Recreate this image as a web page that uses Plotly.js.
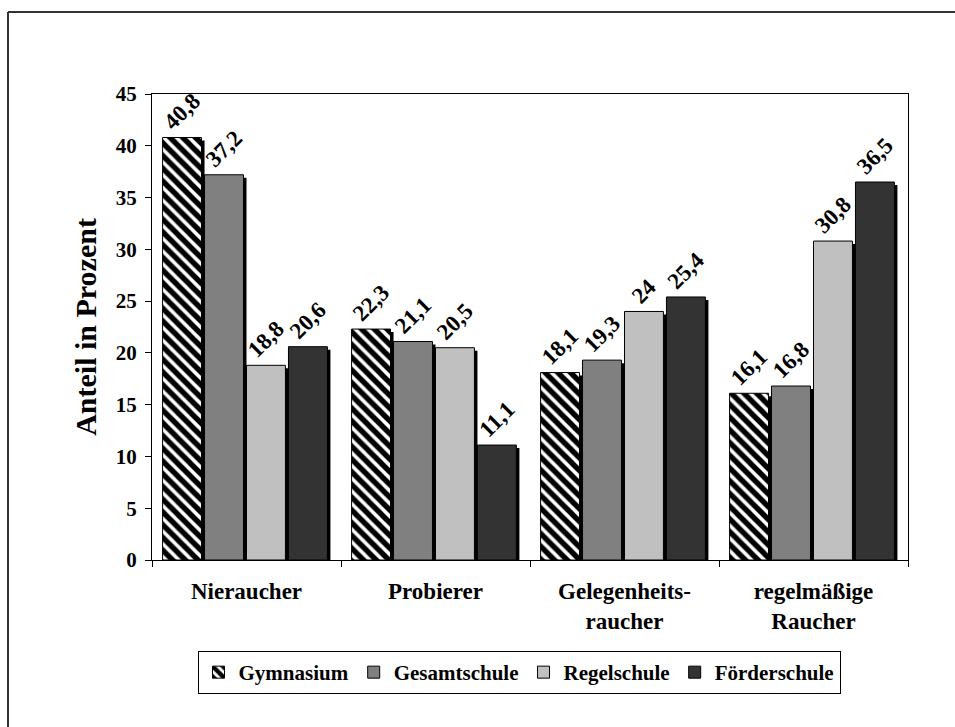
<!DOCTYPE html>
<html>
<head>
<meta charset="utf-8">
<script src="https://cdn.plot.ly/plotly-3.0.1.min.js"></script>
<style>
html,body{margin:0;padding:0;background:#fff;}
#chart{width:955px;height:727px;}
</style>
</head>
<body>
<div id="chart"></div>
<script>
const categories = ["Nieraucher", "Probierer", "Gelegenheits-<br>raucher", "regelmäßige<br>Raucher"];
const seriesNames = ["Gymnasium", "Gesamtschule", "Regelschule", "Förderschule"];
const gymnasium = [40.8, 22.3, 18.1, 16.1];
const gesamtschule = [37.2, 21.1, 19.3, 16.8];
const regelschule = [18.8, 20.5, 24.0, 30.8];
const foerderschule = [20.6, 11.1, 25.4, 36.5];
const labels = [
  ["40,8", "22,3", "18,1", "16,1"],
  ["37,2", "21,1", "19,3", "16,8"],
  ["18,8", "20,5", "24", "30,8"],
  ["20,6", "11,1", "25,4", "36,5"]
];
const yTicks = [0, 5, 10, 15, 20, 25, 30, 35, 40, 45];

const series = [gymnasium, gesamtschule, regelschule, foerderschule];
const colors = ["#ffffff", "#808080", "#c0c0c0", "#333333"];
const offsets = [-0.444, -0.222, 0.0, 0.222];
const barW = 0.206;
const shadowDx = 0.016;
const shadowDy = 0.29;
const font = "Liberation Serif";

const traces = [];
series.forEach((vals, i) => {
  traces.push({
    type: "bar", x: categories, y: vals, base: -shadowDy,
    offset: offsets[i] + shadowDx, width: barW,
    marker: {color: "#000000", line: {width: 0}},
    showlegend: false, hoverinfo: "skip"
  });
});
series.forEach((vals, i) => {
  const m = {color: colors[i], line: {color: "#000000", width: 1}};
  if (i === 0) {
    m.pattern = {shape: "\\", fgcolor: "#000000", bgcolor: "#ffffff", size: 9, solidity: 0.6, fillmode: "replace"};
    m.color = "#000000";
  }
  traces.push({
    type: "bar", name: seriesNames[i], x: categories, y: vals,
    offset: offsets[i], width: barW,
    marker: m,
    text: labels[i], textposition: "outside", textangle: -45,
    constraintext: "none", cliponaxis: false,
    textfont: {family: font, size: 23, color: "#000", weight: 700},
    outsidetextfont: {family: font, size: 23, color: "#000", weight: 700}
  });
});

const l = 152, r = 47, t = 94, b = 167;
const pw = 955 - l - r, ph = 727 - t - b;
const px = v => (v - l) / pw;
const py = v => (727 - b - v) / ph;

const layout = {
  width: 955, height: 727,
  margin: {l: l, r: r, t: t, b: b, pad: 0},
  paper_bgcolor: "#ffffff", plot_bgcolor: "#ffffff",
  barmode: "overlay",
  font: {family: font, color: "#000", size: 21, weight: 700},
  showlegend: true,
  legend: {
    orientation: "h", x: px(519), xanchor: "center", y: py(651), yanchor: "top",
    bordercolor: "#000", borderwidth: 1, bgcolor: "#fff",
    font: {family: font, size: 21, color: "#000", weight: 700},
    traceorder: "normal", itemwidth: 30, tracegroupgap: 0
  },
  xaxis: {
    type: "category", showline: true, linecolor: "#000", linewidth: 1, mirror: true,
    ticks: "outside", ticklen: 6, tickcolor: "#000", tickson: "boundaries",
    showgrid: false, zeroline: false, ticklabelstandoff: 10,
    tickfont: {family: font, size: 23, color: "#000", weight: 700},
    range: [-0.5, 3.5]
  },
  yaxis: {
    range: [0, 45], tickvals: yTicks, ticktext: yTicks.map(String),
    showline: true, linecolor: "#000", linewidth: 1, mirror: true,
    ticks: "outside", ticklen: 6, tickcolor: "#000",
    showgrid: false, zeroline: false, ticklabelstandoff: 4,
    tickfont: {family: font, size: 21, color: "#000", weight: 700},
    title: {text: "Anteil in Prozent", font: {family: font, size: 30, color: "#000", weight: 700}, standoff: 10}
  },
  shapes: [
    {type: "line", xref: "paper", yref: "paper", x0: px(8), x1: px(960), y0: py(12), y1: py(12), line: {color: "#333", width: 2}},
    {type: "line", xref: "paper", yref: "paper", x0: px(8), x1: px(8), y0: py(12), y1: py(740), line: {color: "#333", width: 2}}
  ]
};

Plotly.newPlot("chart", traces, layout, {displayModeBar: false, staticPlot: true});
</script>
</body>
</html>
